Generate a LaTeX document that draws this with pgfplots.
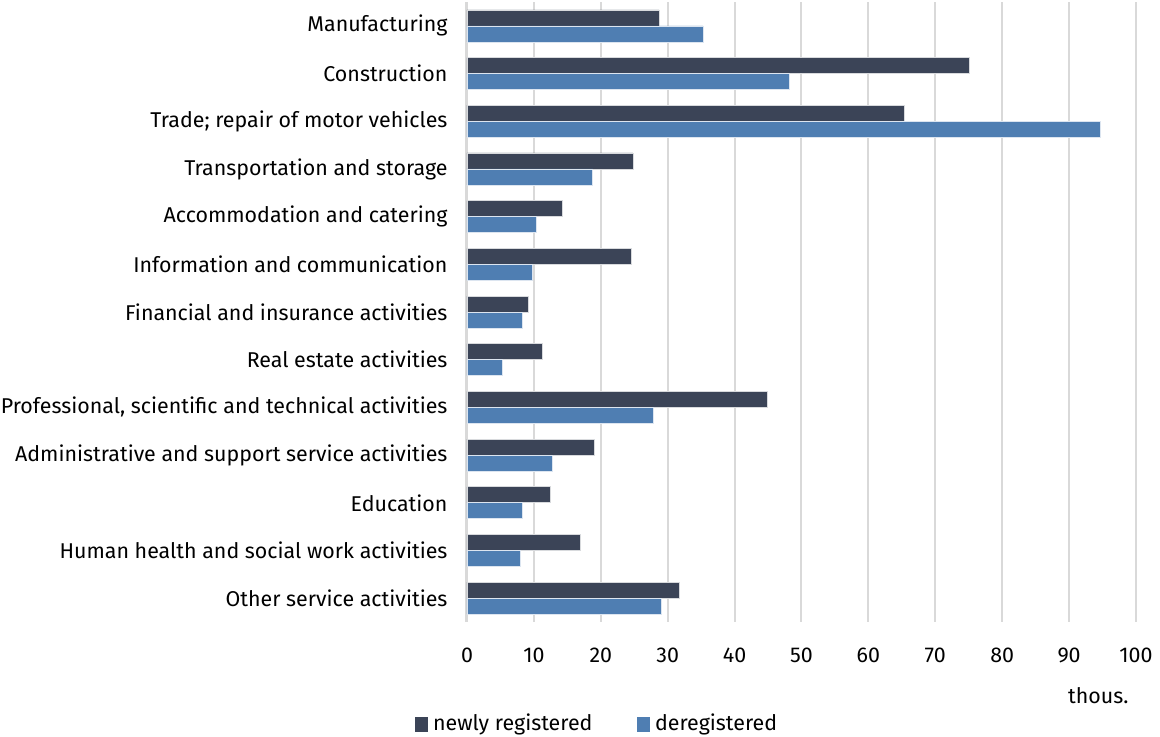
\documentclass[border=0pt]{standalone}
\usepackage{fontspec}
\setmainfont{Fira Sans}
\usepackage{pgfplots}
\pgfplotsset{compat=1.18}
\definecolor{newreg}{RGB}{59 68 87}
\definecolor{dereg}{RGB}{79 126 178}
\definecolor{gridc}{RGB}{217 217 217}
\begin{document}
\fontsize{10.7pt}{12.8pt}\selectfont
\begin{tikzpicture}
\begin{axis}[
    anchor=south west, at={(0,0)},
    scale only axis,
    width=334.5pt, height=310pt,
    xbar=0pt, bar width=8pt,
    xmin=0, xmax=100,
    ymin=-0.5, ymax=12.5,
    y dir=reverse,
    xtick={0,10,...,100},
    ytick={0,...,12},
    yticklabels={Manufacturing,Construction,Trade; repair of motor vehicles,Transportation and storage,Accommodation and catering,Information and communication,Financial and insurance activities,Real estate activities,{Professional, scientific and technical activities},Administrative and support service activities,Education,Human health and social work activities,Other service activities},
    /pgf/number format/assume math mode=true,
    xmajorgrids,
    major grid style={gridc, line width=1pt},
    axis line style={draw=none},
    major tick length=0pt,
    xticklabel style={yshift=-9pt},
    yticklabel style={xshift=-6pt},
    xlabel={thous.},
    xlabel style={at={(rel axis cs:1,0)}, anchor=north east, yshift=-29pt, xshift=0pt},
    legend style={at={(rel axis cs:0.197,0)}, anchor=center, yshift=-51pt, draw=none, legend columns=2,
      /tikz/every even column/.append style={column sep=20pt},
      nodes={inner xsep=2.5pt}, font=\fontsize{10.7pt}{12.8pt}\selectfont},
    clip=false,
]
\draw[gridc, line width=1.5pt] (axis cs:0,-0.5) -- (axis cs:0,12.5);
\addplot[fill=newreg, draw=white!80!newreg, line width=0.3pt, bar shift=4pt,
  legend image code/.code={\fill[newreg] (0pt,-3.5pt) rectangle (6pt,3.5pt);}] coordinates {
(28.7,0) (75.1,1) (65.3,2) (24.8,3) (14.3,4) (24.5,5) (9.2,6) (11.3,7) (44.9,8) (19.1,9) (12.5,10) (17.0,11) (31.7,12)};
\addplot[fill=dereg, draw=white!80!dereg, line width=0.3pt, bar shift=-4pt,
  legend image code/.code={\fill[dereg] (0pt,-3.5pt) rectangle (6pt,3.5pt);}] coordinates {
(35.3,0) (48.2,1) (94.6,2) (18.8,3) (10.4,4) (9.8,5) (8.3,6) (5.3,7) (27.8,8) (12.8,9) (8.3,10) (8.0,11) (29.0,12)};
\legend{newly registered,deregistered}
\end{axis}
\pgfresetboundingbox
\path (-233.5pt,-57pt) rectangle (346.5pt,311pt);
\end{tikzpicture}
\end{document}
